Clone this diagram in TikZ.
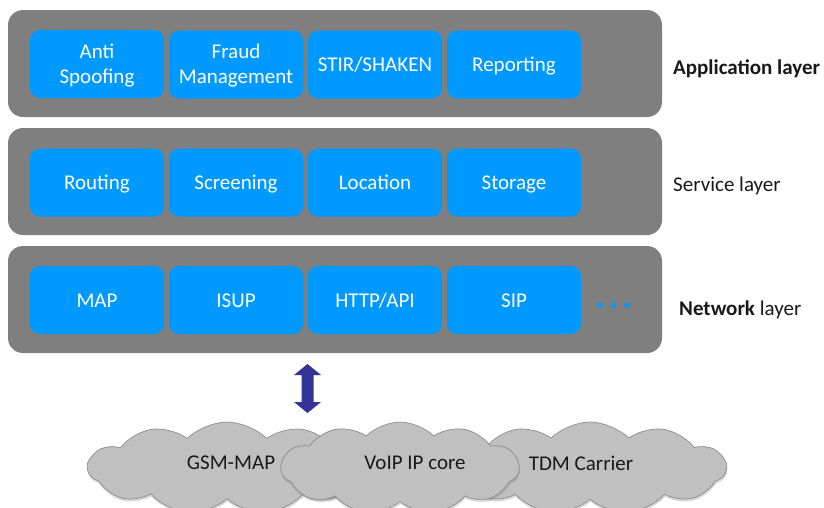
\documentclass[tikz,border=0pt]{standalone}
\usepackage{fontspec}
\setmainfont{Carlito}
\usetikzlibrary{shapes.symbols,shadows}
\definecolor{layergray}{RGB}{127,127,127}
\definecolor{modblue}{RGB}{0,153,255}
\definecolor{arrowblue}{RGB}{51,51,153}
\definecolor{cloudfill}{RGB}{192,192,192}
\definecolor{cloudline}{RGB}{140,140,140}
\definecolor{inktext}{RGB}{25,25,25}

\begin{document}
\begin{tikzpicture}[x=1pt,y=-1pt,
  layerbox/.style={fill=layergray, rounded corners=15pt, minimum width=654pt,
    minimum height=107pt, inner sep=0pt},
  modbox/.style={fill=modblue, rounded corners=10pt, minimum width=134pt,
    minimum height=68pt, inner sep=0pt, text=white, align=center,
    font=\fontsize{21}{25}\selectfont, text height=18.6pt, text depth=4.4pt},
  twoline/.style={text height=42pt, text depth=4pt},
  layerlabel/.style={anchor=west, inner sep=0pt, text=inktext,
    font=\fontsize{21}{25}\selectfont},
  morebox/.style={circle, fill=modblue, minimum size=5.5pt, inner sep=0pt},
  netcloud/.style={cloud, cloud puffs=11, cloud puff arc=90, cloud ignores aspect,
    fill=cloudfill, draw=cloudline, line width=0.7pt, inner sep=0pt,
    minimum height=92pt,
    drop shadow={opacity=0.3, shadow xshift=0.5pt, shadow yshift=-2.5pt}},
  cloudtext/.style={inner sep=0pt, text=inktext, font=\fontsize{21}{25}\selectfont}
]
\useasboundingbox (0,0) rectangle (824,507);

% the three layers
\node[layerbox] (app) at (335,63.5) {};
\node[layerbox] (svc) at (335,181.5) {};
\node[layerbox] (net) at (335,299.5) {};

% application layer modules
\node[modbox, twoline] (anti)   at (97,64)  {Anti\\Spoofing};
\node[modbox, twoline] (fraud)  at (236,64.5) {Fraud\\Management};
\node[modbox] (stir)   at (375,64.5) {STIR/SHAKEN};
\node[modbox] (report) at (514,64.5) {Reporting};

% service layer modules
\node[modbox] (routing) at (97,182.5)  {Routing};
\node[modbox] (screen)  at (236,182.5) {Screening};
\node[modbox] (locate)  at (375,182.5) {Location};
\node[modbox] (store)   at (514,182.5) {Storage};

% network layer modules
\node[modbox] (map)  at (97,300)  {MAP};
\node[modbox] (isup) at (236,300) {ISUP};
\node[modbox] (http) at (375,300) {HTTP/API};
\node[modbox] (sip)  at (514,300) {SIP};
\node[morebox] (dotA) at (600,305) {};
\node[morebox] (dotB) at (613.5,305) {};
\node[morebox] (dotC) at (627,305) {};

% layer names
\node[layerlabel] (appname) at (673,69)  {\textbf{Application layer}};
\node[layerlabel] (svcname) at (673,186) {Service layer};
\node[layerlabel] (netname) at (679,310) {\textbf{Network} layer};

% two-way block arrow between the stack and the networks
\begin{scope}[shift={(307.5,388.5)}]
  \fill[arrowblue] (0,-24.5) -- (13.5,-13.5) -- (6,-13.5) -- (6,13.5) -- (13.5,13.5)
    -- (0,24.5) -- (-13.5,13.5) -- (-6,13.5) -- (-6,-13.5) -- (-13.5,-13.5) -- cycle;
\end{scope}

% carrier networks
\node[netcloud, minimum width=278pt] (gsm) at (227,468) {};
\node[netcloud, minimum width=272pt] (tdm) at (590,468) {};
\node[netcloud, minimum width=238pt] (voip) at (400,468) {};
\node[cloudtext] (gsmtext)  at (231,463) {GSM-MAP};
\node[cloudtext] (voiptext) at (415,463) {VoIP IP core};
\node[cloudtext] (tdmtext)  at (581,463) {TDM Carrier};
\end{tikzpicture}
\end{document}
